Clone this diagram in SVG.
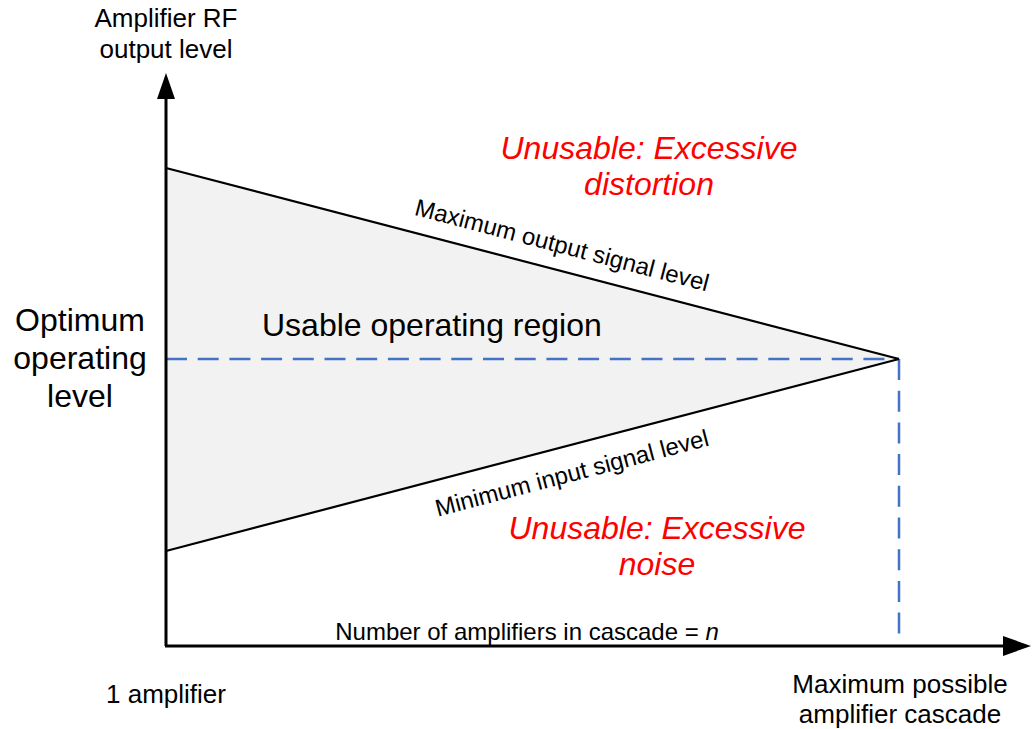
<svg xmlns="http://www.w3.org/2000/svg" width="1034" height="729" viewBox="0 0 1034 729">
  <style>
    text { font-family: "Liberation Sans", Arial, sans-serif; fill: #000; }
    .big { font-size: 32px; }
    .mid { font-size: 26px; }
    .small { font-size: 24px; }
    .warn { font-size: 32px; font-style: italic; fill: #FF0000; }
    .edge { stroke: #000; stroke-width: 2.2; fill: none; }
    .axis { stroke: #000; stroke-width: 3; fill: none; }
    .guide { stroke: #4472C4; stroke-width: 2.5; stroke-dasharray: 21 10.7; fill: none; }
  </style>

  <!-- usable operating region -->
  <g id="region">
    <polygon points="166,168 899,359 166,551" fill="#F2F2F2"/>
    <text class="big" x="262" y="336">Usable operating region</text>
  </g>

  <g id="connectors">
    <!-- optimum level and cascade limit guides -->
    <line class="guide" x1="166" y1="359" x2="899" y2="359"/>
    <line class="guide" x1="899" y1="359" x2="899" y2="634"/>
    <!-- region boundaries -->
    <line class="edge" x1="166" y1="168" x2="899" y2="359"/>
    <line class="edge" x1="166" y1="551" x2="899" y2="359"/>
    <!-- axes -->
    <line class="axis" x1="166" y1="646" x2="166" y2="98"/>
    <polygon points="166,73 157,99 175,99" fill="#000"/>
    <line class="axis" x1="165" y1="646" x2="1004" y2="646"/>
    <polygon points="1031,646 1003,636 1003,656" fill="#000"/>
  </g>

  <g id="y-axis-label">
    <text class="mid" x="166" y="27" text-anchor="middle">Amplifier RF</text>
    <text class="mid" x="166" y="58" text-anchor="middle">output level</text>
  </g>

  <g id="optimum-label">
    <text class="big" x="80" y="331" text-anchor="middle">Optimum</text>
    <text class="big" x="80" y="369" text-anchor="middle">operating</text>
    <text class="big" x="80" y="407" text-anchor="middle">level</text>
  </g>

  <g id="max-label">
    <text class="small" text-anchor="middle" transform="translate(560,253) rotate(14.68)">Maximum output signal level</text>
  </g>

  <g id="min-label">
    <text class="small" text-anchor="middle" transform="translate(574,481) rotate(-14.68)">Minimum input signal level</text>
  </g>

  <g id="distortion-zone">
    <text class="warn" x="649" y="159" text-anchor="middle">Unusable: Excessive</text>
    <text class="warn" x="649" y="195" text-anchor="middle">distortion</text>
  </g>

  <g id="noise-zone">
    <text class="warn" x="657" y="539" text-anchor="middle">Unusable: Excessive</text>
    <text class="warn" x="657" y="575" text-anchor="middle">noise</text>
  </g>

  <g id="x-axis-label">
    <text class="small" x="527" y="640" text-anchor="middle">Number of amplifiers in cascade = <tspan font-style="italic">n</tspan></text>
  </g>

  <g id="one-amp">
    <text class="mid" x="166" y="703" text-anchor="middle">1 amplifier</text>
  </g>

  <g id="max-cascade">
    <text class="mid" x="900" y="693" text-anchor="middle">Maximum possible</text>
    <text class="mid" x="900" y="723" text-anchor="middle">amplifier cascade</text>
  </g>
</svg>
